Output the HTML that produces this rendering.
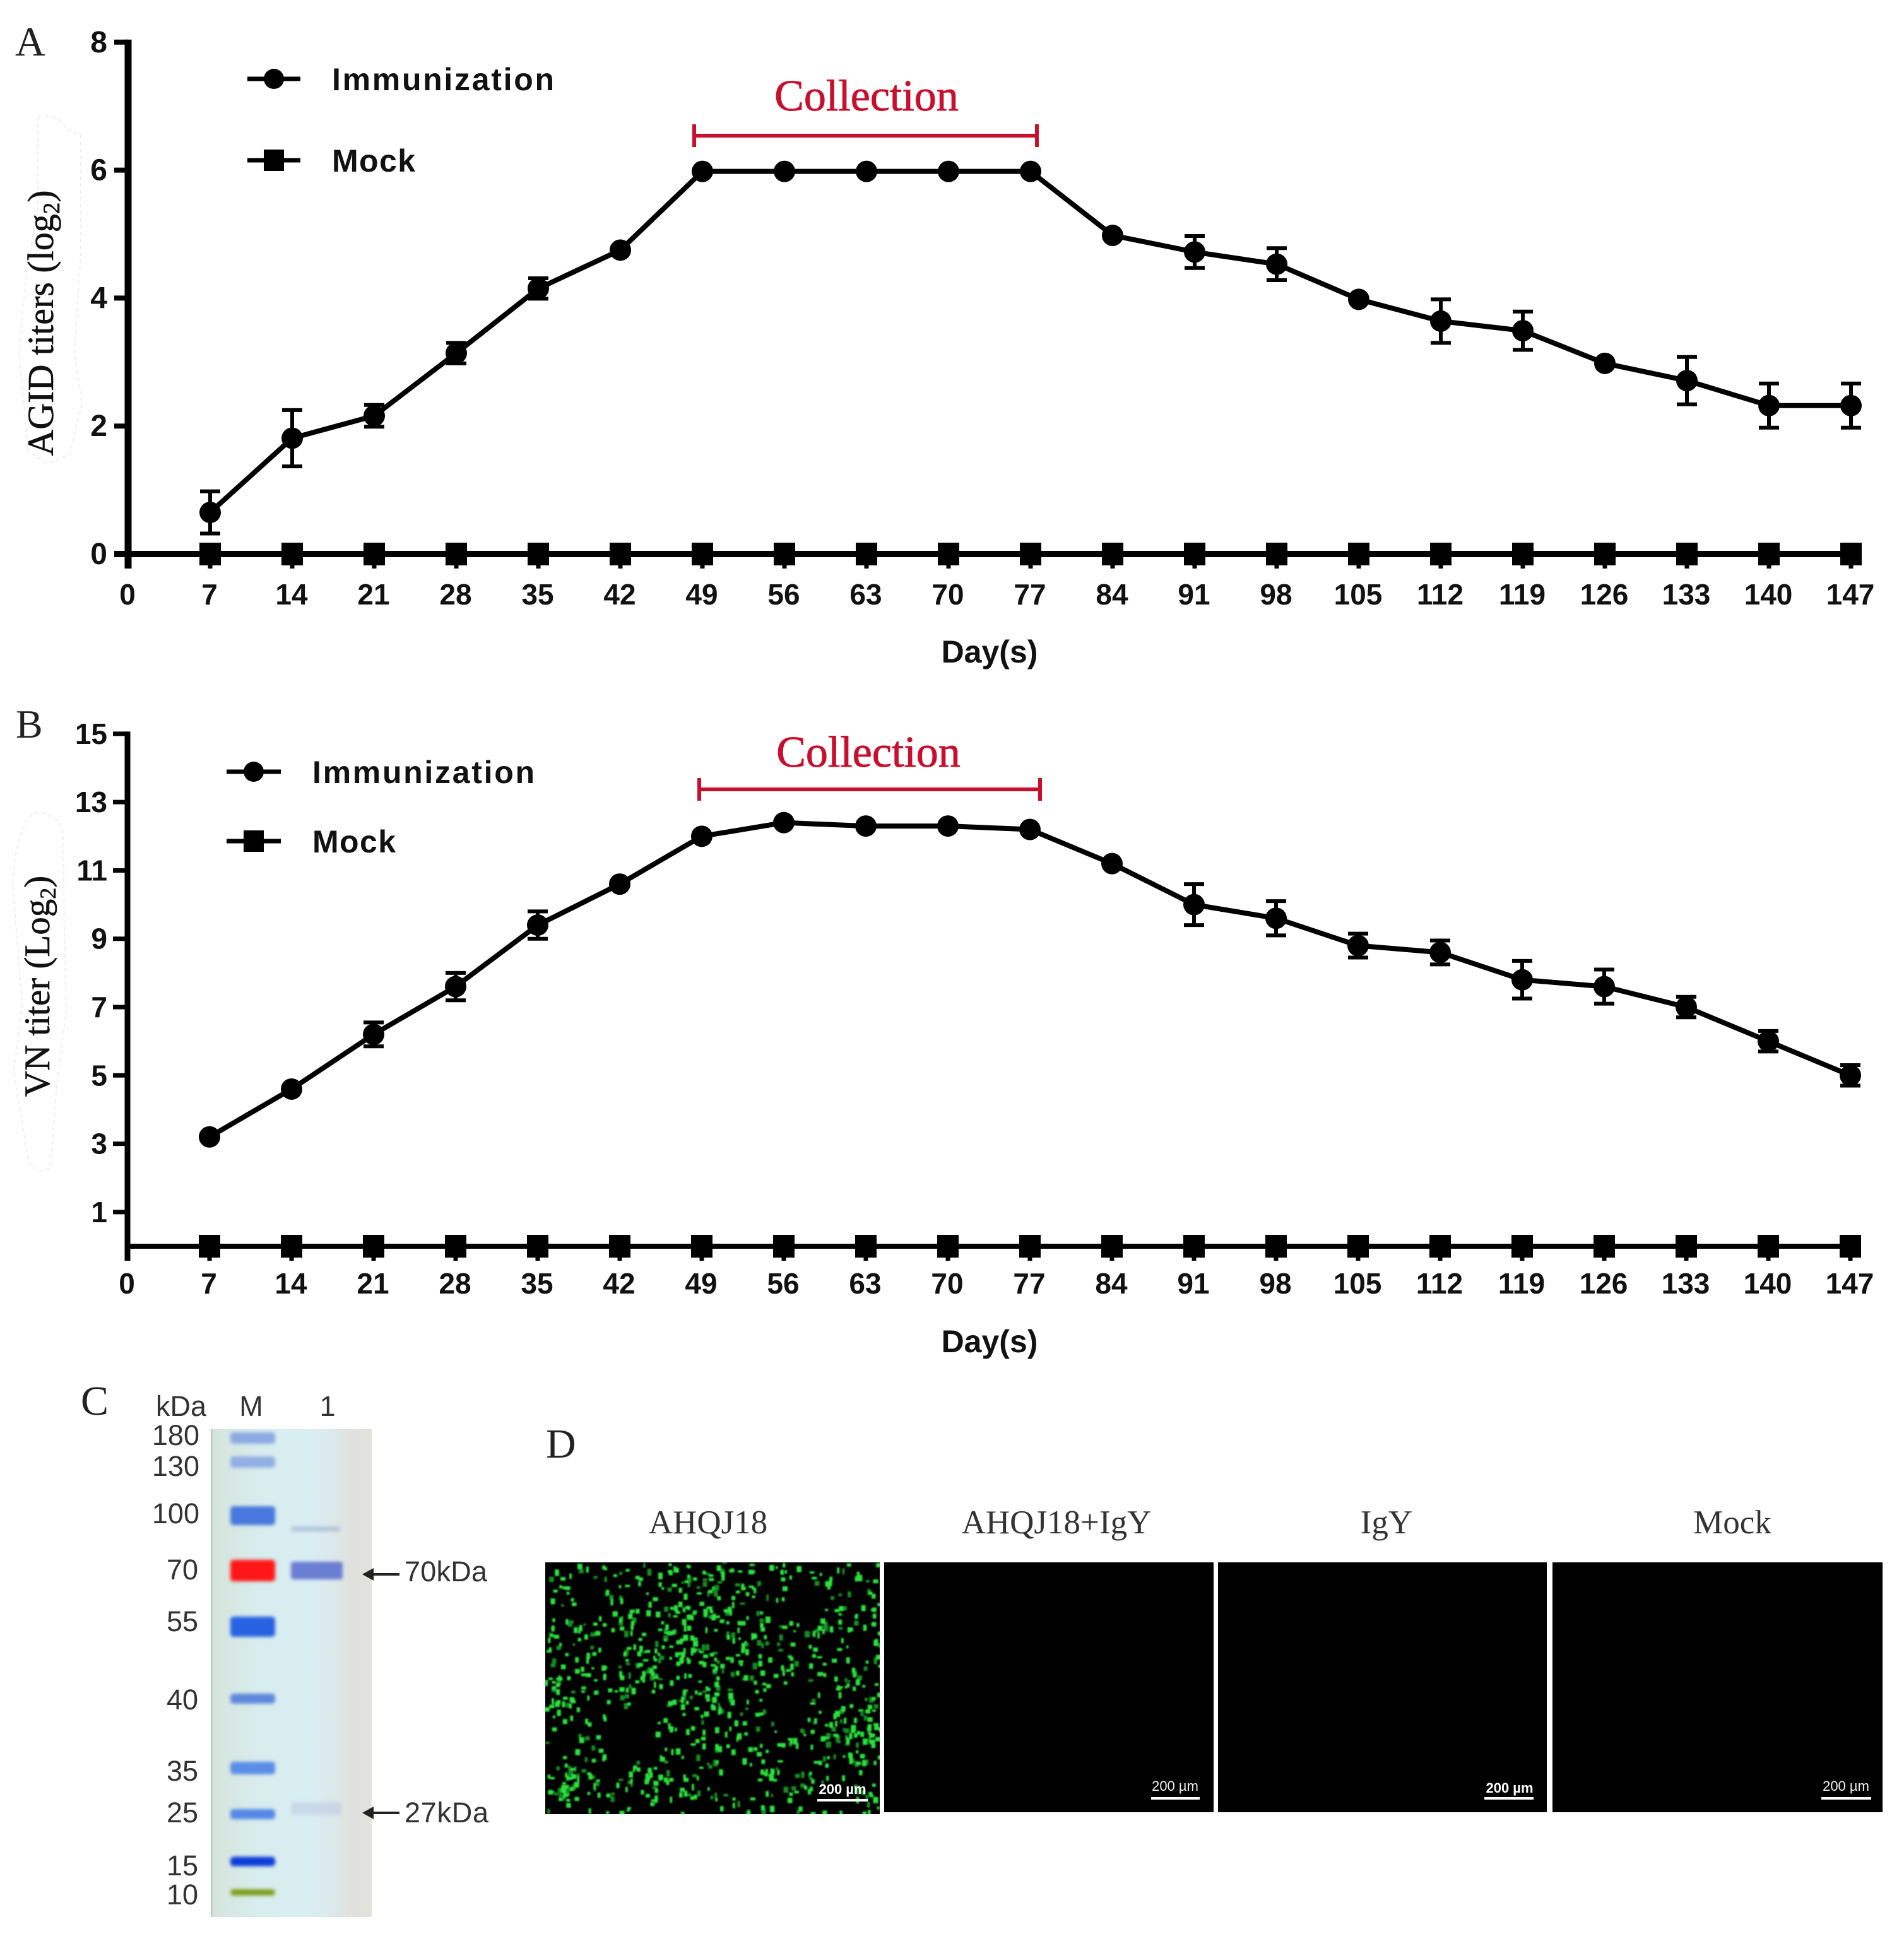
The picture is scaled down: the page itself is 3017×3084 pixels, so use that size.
<!DOCTYPE html>
<html lang="en">
<head>
<meta charset="utf-8">
<title>IgY immunization titers, SDS-PAGE and immunofluorescence</title>
<style>
html,body{margin:0;padding:0;background:#fff;}
svg{display:block;}
.sans{font-family:"Liberation Sans",Arial,sans-serif;}
.serif{font-family:"Liberation Serif","Times New Roman",serif;}
</style>
</head>
<body>
<svg id="figure" xmlns="http://www.w3.org/2000/svg" width="3017" height="3084" viewBox="0 0 3017 3084">
  <defs>
    <linearGradient id="gel-bg" x1="0" x2="1" y1="0" y2="0">
      <stop offset="0" stop-color="#a9c2bd"/>
      <stop offset="0.015" stop-color="#d6e4dc"/>
      <stop offset="0.3" stop-color="#d8edee"/>
      <stop offset="0.62" stop-color="#d9eef3"/>
      <stop offset="0.76" stop-color="#dce9ea"/>
      <stop offset="0.88" stop-color="#dfe1dc"/>
      <stop offset="1" stop-color="#e3e2db"/>
    </linearGradient>
    <filter id="soft" x="-10%" y="-60%" width="120%" height="220%"><feGaussianBlur stdDeviation="2.6"/></filter>
    <filter id="soft-dot" x="-5%" y="-5%" width="110%" height="110%"><feGaussianBlur stdDeviation="1"/></filter>
    <clipPath id="cells-clip"><rect x="864" y="2476" width="530" height="399"/></clipPath>
  </defs>

  <g id="panel-a">
    <text class="serif" x="24" y="88" font-size="66" fill="#222">A</text>
    <path d="M60 185 Q95 180 105 205 L128 215 L128 400 L118 560 L130 640 L110 720 L75 735 L45 715 L30 560 L42 430 L60 330 Z" fill="none" stroke="#efefef" stroke-width="2" stroke-dasharray="6 5"/>
    <text class="serif" transform="translate(84 512) rotate(-90)" text-anchor="middle" font-size="58" fill="#111" stroke="#111" stroke-width="0.6">AGID titers (log<tspan font-size="37" dy="10">2</tspan><tspan dy="-10">)</tspan></text>
    <g id="chart-a"></g>
    <g>
      <text class="serif" x="1373" y="175" text-anchor="middle" font-size="70" fill="#c8102e" stroke="#c8102e" stroke-width="0.9">Collection</text>
      <path d="M1100 215H1643M1100 197V233M1643 197V233" fill="none" stroke="#c8102e" stroke-width="6"/>
    </g>
  </g>

  <g id="panel-b">
    <text class="serif" x="25" y="1169" font-size="64" fill="#222">B</text>
    <path d="M55 1288 Q90 1285 100 1320 L102 1480 L105 1600 L90 1720 L80 1850 Q60 1865 45 1840 L22 1700 L35 1590 L20 1400 Q25 1310 55 1288 Z" fill="none" stroke="#efefef" stroke-width="2" stroke-dasharray="6 5"/>
    <text class="serif" transform="translate(78 1563) rotate(-90)" text-anchor="middle" font-size="57" fill="#111" stroke="#111" stroke-width="0.6">VN titer (Log<tspan font-size="36" dy="10">2</tspan><tspan dy="-10">)</tspan></text>
    <g id="chart-b"></g>
    <g>
      <text class="serif" x="1376" y="1215" text-anchor="middle" font-size="70" fill="#c8102e" stroke="#c8102e" stroke-width="0.9">Collection</text>
      <path d="M1108 1251H1648M1108 1233V1269M1648 1233V1269" fill="none" stroke="#c8102e" stroke-width="6"/>
    </g>
  </g>

  <g id="panel-c">
    <text class="serif" x="128" y="2242" font-size="66" fill="#222">C</text>
    <rect x="334" y="2265" width="255" height="773" fill="url(#gel-bg)"/>
    <g id="gel" filter="url(#soft)"></g>
    <g id="gel-labels" class="sans" fill="#333" font-size="45"></g>
    <g>
      <path d="M633 2495H586" stroke="#222" stroke-width="4" fill="none"/>
      <path d="M574 2495L592 2485V2505Z" fill="#222"/>
      <text class="sans" x="641" y="2506" font-size="45" fill="#333" textLength="131">70kDa</text>
    </g>
    <g>
      <path d="M633 2873H586" stroke="#222" stroke-width="4" fill="none"/>
      <path d="M574 2873L592 2863V2883Z" fill="#222"/>
      <text class="sans" x="641" y="2888" font-size="45" fill="#333" textLength="133">27kDa</text>
    </g>
  </g>

  <g id="panel-d">
    <text class="serif" x="865" y="2310" font-size="66" fill="#222">D</text>
    <text class="serif" x="1122" y="2430" text-anchor="middle" font-size="53" fill="#333">AHQJ18</text>
    <text class="serif" x="1674" y="2430" text-anchor="middle" font-size="53" fill="#333">AHQJ18+IgY</text>
    <text class="serif" x="2197" y="2430" text-anchor="middle" font-size="53" fill="#333">IgY</text>
    <text class="serif" x="2745" y="2430" text-anchor="middle" font-size="53" fill="#333">Mock</text>

    <rect x="864" y="2476" width="530" height="399" fill="#000"/>
    <g clip-path="url(#cells-clip)"><g id="green-cells" filter="url(#soft-dot)"></g></g>
    <rect x="1401" y="2476" width="522" height="396" fill="#000"/>
    <rect x="1930" y="2476" width="521" height="396" fill="#000"/>
    <rect x="2460" y="2476" width="523" height="396" fill="#000"/>

    <g id="scale-bar-1">
      <rect x="1295" y="2851" width="80" height="4" fill="#fff"/>
      <text class="sans" x="1335" y="2843" text-anchor="middle" font-size="22" font-weight="bold" fill="#fff">200 µm</text>
    </g>
    <g>
      <rect x="1824" y="2848" width="77" height="4" fill="#fff"/>
      <text class="sans" x="1862" y="2838" text-anchor="middle" font-size="22" fill="#eee">200 µm</text>
    </g>
    <g>
      <rect x="2352" y="2848" width="78" height="4" fill="#fff"/>
      <text class="sans" x="2392" y="2841" text-anchor="middle" font-size="22" font-weight="bold" fill="#fff">200 µm</text>
    </g>
    <g>
      <rect x="2886" y="2848" width="79" height="4" fill="#fff"/>
      <text class="sans" x="2925" y="2838" text-anchor="middle" font-size="22" fill="#eee">200 µm</text>
    </g>
  </g>
</svg>

<script>
const days = [7,14,21,28,35,42,49,56,63,70,77,84,91,98,105,112,119,126,133,140,147];
const xTickLabels = [0,7,14,21,28,35,42,49,56,63,70,77,84,91,98,105,112,119,126,133,140,147];

const agidImmunization = [0.65,1.81,2.16,3.14,4.15,4.75,5.98,5.98,5.98,5.98,5.98,4.98,4.72,4.53,3.98,3.64,3.49,2.98,2.71,2.32,2.32];
const agidErrors = [0.33,0.44,0.17,0.16,0.16,0.04,0,0,0,0,0,0,0.25,0.25,0,0.34,0.3,0,0.37,0.345,0.345];
const agidMock = [0,0,0,0,0,0,0,0,0,0,0,0,0,0,0,0,0,0,0,0,0];
const agidYTicks = [0,2,4,6,8];

const vnImmunization = [3.2,4.6,6.2,7.6,9.4,10.6,12,12.4,12.3,12.3,12.2,11.2,10,9.6,8.8,8.6,7.8,7.6,7,6,5];
const vnErrors = [0,0,0.35,0.4,0.4,0,0,0,0,0,0,0,0.6,0.5,0.35,0.35,0.55,0.5,0.3,0.3,0.3];
const vnMock = [0,0,0,0,0,0,0,0,0,0,0,0,0,0,0,0,0,0,0,0,0];
const vnYTicks = [1,3,5,7,9,11,13,15];

const gelMarkerKda = ['180','130','100','70','55','40','35','25','15','10'];

const SVG_NS = 'http://www.w3.org/2000/svg';
function make(tag, parent) {
  const node = document.createElementNS(SVG_NS, tag);
  parent.appendChild(node);
  return node;
}

function drawChart(root, prefix, means, errors, mock, yTicks, frame) {
  const xScale = d => frame.x0 + d * frame.pxPerDay;
  const yScale = v => frame.y0 - v * frame.pxPerUnit;
  const axisEnd = xScale(147) + 16;
  const yAxisTop = yScale(yTicks[yTicks.length - 1]);

  const yAxis = make('line', root);
  
  
  yAxis.setAttribute('x1', frame.x0); yAxis.setAttribute('x2', frame.x0);
  yAxis.setAttribute('y1', yAxisTop - frame.tickW / 2); yAxis.setAttribute('y2', frame.y0 + frame.tickBelow);
  yAxis.setAttribute('stroke', '#000'); yAxis.setAttribute('stroke-width', frame.axisW);

  const xAxis = make('line', root);
  
  
  xAxis.setAttribute('x1', frame.x0 - (yTicks[0] === 0 ? frame.tickLen : 0)); xAxis.setAttribute('x2', axisEnd);
  xAxis.setAttribute('y1', frame.y0); xAxis.setAttribute('y2', frame.y0);
  xAxis.setAttribute('stroke', '#000'); xAxis.setAttribute('stroke-width', frame.xAxisW);

  yTicks.forEach(v => {
    const t = make('line', root);
    
    
    t.setAttribute('x1', frame.x0 - frame.tickLen); t.setAttribute('x2', frame.x0);
    t.setAttribute('y1', yScale(v)); t.setAttribute('y2', yScale(v));
    t.setAttribute('stroke', '#000'); t.setAttribute('stroke-width', frame.tickW);

    const lab = make('text', root);
    
    
    lab.setAttribute('class', 'sans');
    lab.setAttribute('x', frame.yLabelRight); lab.setAttribute('y', yScale(v) + 16);
    lab.setAttribute('text-anchor', 'end'); lab.setAttribute('font-size', frame.yFont);
    lab.setAttribute('font-weight', 'bold'); lab.setAttribute('fill', '#111');
    lab.textContent = v;
  });

  xTickLabels.forEach(d => {
    const t = make('line', root);
    
    
    t.setAttribute('x1', xScale(d)); t.setAttribute('x2', xScale(d));
    t.setAttribute('y1', frame.y0); t.setAttribute('y2', frame.y0 + frame.tickBelow);
    t.setAttribute('stroke', '#000'); t.setAttribute('stroke-width', 7);

    const lab = make('text', root);
    
    
    lab.setAttribute('class', 'sans');
    lab.setAttribute('x', xScale(d) - 1); lab.setAttribute('y', frame.xLabelY);
    lab.setAttribute('text-anchor', 'middle'); lab.setAttribute('font-size', 46);
    lab.setAttribute('font-weight', 'bold'); lab.setAttribute('fill', '#111');
    lab.textContent = d;
  });

  const xTitle = make('text', root);
  
  
  xTitle.setAttribute('class', 'sans');
  xTitle.setAttribute('x', 1568); xTitle.setAttribute('y', frame.xTitleY);
  xTitle.setAttribute('text-anchor', 'middle'); xTitle.setAttribute('font-size', 50);
  xTitle.setAttribute('font-weight', 'bold'); xTitle.setAttribute('fill', '#111');
  xTitle.textContent = 'Day(s)';

  // mock series
  const mockLine = make('polyline', root);
  
  
  mockLine.setAttribute('points', days.map((d, i) => xScale(d) + ',' + yScale(mock[i])).join(' '));
  mockLine.setAttribute('fill', 'none'); mockLine.setAttribute('stroke', '#000'); mockLine.setAttribute('stroke-width', frame.xAxisW);
  days.forEach((d, i) => {
    const s = make('rect', root);
    
    
    s.setAttribute('x', xScale(d) - 17); s.setAttribute('y', yScale(mock[i]) - 18);
    s.setAttribute('width', 34); s.setAttribute('height', 36);
    s.setAttribute('fill', '#000');
  });

  // immunization series
  const line = make('polyline', root);
  
  
  line.setAttribute('points', days.map((d, i) => xScale(d) + ',' + yScale(means[i])).join(' '));
  line.setAttribute('fill', 'none'); line.setAttribute('stroke', '#000');
  line.setAttribute('stroke-width', 8); line.setAttribute('stroke-linejoin', 'round');

  days.forEach((d, i) => {
    if (errors[i] > 0) {
      const hi = yScale(means[i] + errors[i]);
      const lo = yScale(means[i] - errors[i]);
      const cx = xScale(d);
      const e = make('path', root);
      
      
      e.setAttribute('d', 'M' + (cx - 16) + ' ' + hi + 'H' + (cx + 16) + 'M' + cx + ' ' + hi + 'V' + lo + 'M' + (cx - 16) + ' ' + lo + 'H' + (cx + 16));
      e.setAttribute('fill', 'none'); e.setAttribute('stroke', '#000'); e.setAttribute('stroke-width', 6);
    }
    const c = make('circle', root);
    
    
    c.setAttribute('cx', xScale(d)); c.setAttribute('cy', yScale(means[i]));
    c.setAttribute('r', 17); c.setAttribute('fill', '#000');
  });

  // legend
  const lg = make('g', root);
  
  

  const l1 = make('line', lg);
  
  
  l1.setAttribute('x1', frame.legX1); l1.setAttribute('x2', frame.legX2);
  l1.setAttribute('y1', frame.legY1); l1.setAttribute('y2', frame.legY1);
  l1.setAttribute('stroke', '#000'); l1.setAttribute('stroke-width', 7);
  const lc = make('circle', lg);
  
  
  lc.setAttribute('cx', (frame.legX1 + frame.legX2) / 2); lc.setAttribute('cy', frame.legY1);
  lc.setAttribute('r', 16); lc.setAttribute('fill', '#000');
  const t1 = make('text', lg);
  
  
  t1.setAttribute('class', 'sans');
  t1.setAttribute('x', frame.legTextX); t1.setAttribute('y', frame.legY1 + 18);
  t1.setAttribute('font-size', 50); t1.setAttribute('font-weight', 'bold'); t1.setAttribute('fill', '#111');
  t1.setAttribute('textLength', 352);
  t1.textContent = 'Immunization';

  const l2 = make('line', lg);
  
  
  l2.setAttribute('x1', frame.legX1); l2.setAttribute('x2', frame.legX2);
  l2.setAttribute('y1', frame.legY2); l2.setAttribute('y2', frame.legY2);
  l2.setAttribute('stroke', '#000'); l2.setAttribute('stroke-width', 7);
  const ls = make('rect', lg);
  
  
  ls.setAttribute('x', (frame.legX1 + frame.legX2) / 2 - 16); ls.setAttribute('y', frame.legY2 - 17);
  ls.setAttribute('width', 32); ls.setAttribute('height', 34); ls.setAttribute('fill', '#000');
  const t2 = make('text', lg);
  
  
  t2.setAttribute('class', 'sans');
  t2.setAttribute('x', frame.legTextX); t2.setAttribute('y', frame.legY2 + 18);
  t2.setAttribute('font-size', 50); t2.setAttribute('font-weight', 'bold'); t2.setAttribute('fill', '#111');
  t2.setAttribute('textLength', 132);
  t2.textContent = 'Mock';
}

drawChart(document.getElementById('chart-a'), 'agid', agidImmunization, agidErrors, agidMock, agidYTicks, {
  x0: 203, y0: 878, pxPerDay: 130 / 7, pxPerUnit: 101.4,
  axisW: 11, xAxisW: 10, tickW: 8, tickLen: 22, tickBelow: 23,
  yFont: 48, yLabelRight: 170, xLabelY: 958, xTitleY: 1050,
  legX1: 392, legX2: 476, legY1: 125, legY2: 254, legTextX: 526
});

drawChart(document.getElementById('chart-b'), 'vn', vnImmunization, vnErrors, vnMock, vnYTicks, {
  x0: 202, y0: 1975, pxPerDay: 130 / 7, pxPerUnit: 54.14,
  axisW: 9, xAxisW: 8, tickW: 7, tickLen: 23, tickBelow: 23,
  yFont: 46, yLabelRight: 170, xLabelY: 2050, xTitleY: 2143,
  legX1: 359, legX2: 445, legY1: 1223, legY2: 1333, legTextX: 495
});

/* Panel C gel */
const gelRoot = document.getElementById('gel');
const markerStyles = [
  ['#7f9ee2', 2279, 18, 0.85], ['#86a4e2', 2317, 18, 0.85], ['#4678de', 2402, 30, 1],
  ['#ff1414', 2489, 34, 1], ['#2762e2', 2578, 32, 1], ['#5f88dc', 2692, 16, 1],
  ['#5b8de6', 2802, 20, 1], ['#5488e6', 2875, 16, 1], ['#0c3cd8', 2950, 15, 1], ['#7e9f1e', 2999, 10, 1]
];
markerStyles.forEach(m => {
  const b = make('rect', gelRoot);
  
  
  b.setAttribute('x', 365); b.setAttribute('y', m[1] - m[2] / 2);
  b.setAttribute('width', 71); b.setAttribute('height', m[2]);
  b.setAttribute('rx', 5); b.setAttribute('fill', m[0]); b.setAttribute('opacity', m[3]);
});
[['#8ea3c9', 2423, 8, 0.5, 78], ['#6477d2', 2489, 28, 0.95, 82], ['#b5c2e2', 2866, 20, 0.45, 80]].forEach(m => {
  const b = make('rect', gelRoot);
  
  
  b.setAttribute('x', 461); b.setAttribute('y', m[1] - m[2] / 2);
  b.setAttribute('width', m[4]); b.setAttribute('height', m[2]);
  b.setAttribute('rx', 4); b.setAttribute('fill', m[0]); b.setAttribute('opacity', m[3]);
});

const gelLabelRoot = document.getElementById('gel-labels');
const gelLabelY = [2274, 2323, 2398, 2487, 2569, 2693, 2806, 2872, 2956, 3002];
gelMarkerKda.forEach((k, i) => {
  const t = make('text', gelLabelRoot);
  
  
  t.setAttribute('x', i < 3 ? 316 : 314); t.setAttribute('y', gelLabelY[i] + 16);
  t.setAttribute('text-anchor', 'end');
  t.textContent = k;
});
[['kDa', 287, 2244], ['M', 398, 2244], ['1', 519, 2244]].forEach(h => {
  const t = make('text', gelLabelRoot);
  
  
  t.setAttribute('x', h[1]); t.setAttribute('y', h[2]);
  t.setAttribute('text-anchor', 'middle');
  t.textContent = h[0];
});

/* Panel D: speckled fluorescence texture (deterministic, not chart data) */
const cells = document.getElementById('green-cells');
let seed = 91357;
function nextNoise() { seed = (seed * 16807) % 2147483647; return seed / 2147483647; }
const darkPatches = [[1271, 2537, 32], [990, 2751, 38], [1236, 2697, 30], [1025, 2706, 28], [1327, 2840, 24], [1166, 2818, 28], [934, 2537, 24]];
const denseSpots = [[1110, 2510, 60], [1130, 2595, 65], [1355, 2751, 42], [878, 2684, 32], [892, 2822, 30], [1050, 2600, 55], [1010, 2660, 50]];
let d = '';
let dDim = '';
function addCell(px, py) {
  if (darkPatches.some(p => Math.hypot(px - p[0], py - p[1]) < p[2])) return false;
  const w = 3.5 + nextNoise() * 5;
  const h = 3.5 + nextNoise() * 7;
  const seg = 'M' + px.toFixed(1) + ' ' + py.toFixed(1) + 'h' + w.toFixed(1) + 'v' + h.toFixed(1) + 'h-' + w.toFixed(1) + 'z';
  if (nextNoise() < 0.25) dDim += seg; else d += seg;
  return true;
}
let placed = 0;
while (placed < 760) {
  if (addCell(864 + nextNoise() * 528, 2476 + nextNoise() * 396)) placed++;
}
denseSpots.forEach(s => {
  for (let i = 0; i < 24; i++) {
    const a = nextNoise() * 6.283;
    const r = Math.sqrt(nextNoise()) * s[2];
    addCell(s[0] + Math.cos(a) * r, s[1] + Math.sin(a) * r);
  }
});
const dim = make('path', cells);


dim.setAttribute('d', dDim);
dim.setAttribute('fill', '#128a22');
const bright = make('path', cells);


bright.setAttribute('d', d);
bright.setAttribute('fill', '#2ae03c');
</script>
</body>
</html>
